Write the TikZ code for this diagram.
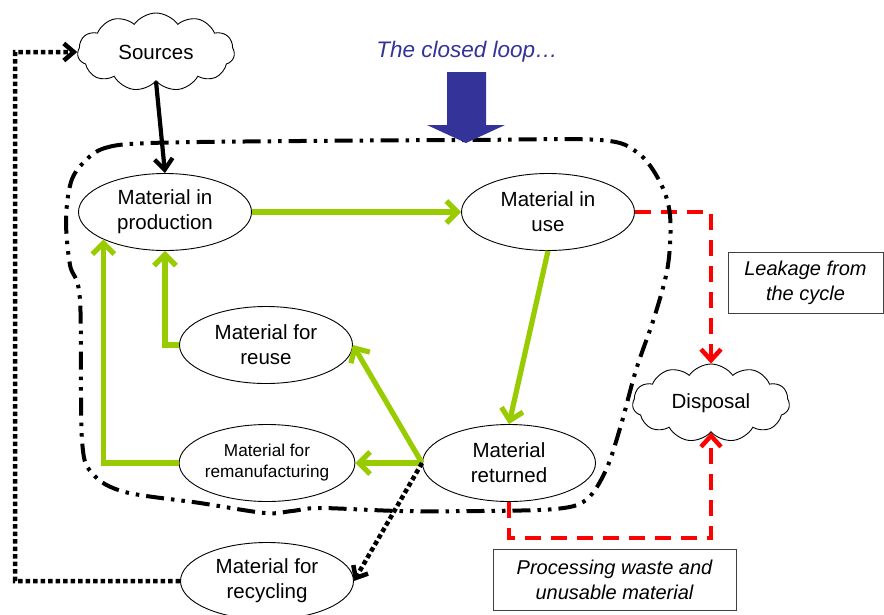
\documentclass[tikz,border=0pt]{standalone}
\usepackage{fontspec}
\setmainfont{Liberation Sans}
\usetikzlibrary{shapes.geometric,shapes.symbols,arrows.meta,calc}
\definecolor{lgreen}{HTML}{99CC00}
\definecolor{dblue}{HTML}{333399}
\begin{document}
\begin{tikzpicture}[x=1pt,y=-1pt,
  every node/.style={font=\fontsize{20.5}{25}\selectfont},
  ell/.style={ellipse, draw, fill=white, line width=0.9pt, minimum width=173pt, minimum height=77pt, inner sep=0pt, align=center},
  cld/.style={cloud, draw, fill=white, line width=0.9pt, cloud puffs=11, cloud puff arc=110, aspect=2.1, minimum width=157pt, minimum height=78pt, inner sep=0pt},
  garrow/.style={draw=lgreen, line width=5.2pt, -{Straight Barb[length=11pt,width=22pt]}},
  barrow/.style={draw=black, line width=4.2pt, -{Straight Barb[length=11pt,width=18pt]}},
  dotline/.style={draw=black, line width=4.5pt, dash pattern=on 4.5pt off 3pt},
  dotarrow/.style={dotline, -{Straight Barb[length=10pt,width=17pt]}},
  rarrow/.style={draw=red, line width=4.5pt, dash pattern=on 16pt off 10pt, -{Straight Barb[length=11pt,width=20pt]}},
  loopline/.style={draw=black, line width=4pt, dash pattern=on 18pt off 7pt on 3.5pt off 7pt on 3.5pt off 7pt},
  textbox/.style={draw=black!75, line width=0.9pt, fill=white, align=center, inner sep=0pt, font=\fontsize{20}{25}\selectfont\itshape}
]
\clip (0,0) rectangle (884,614);
\fill[white] (0,0) rectangle (884,614);

% nodes
\node[cld] (src) at (156,52) {Sources};
\node[cld] (disp) at (711,403) {Disposal};
\node[ell] (prod) at (165,212) {Material in\\production};
\node[ell] (use) at (548,212) {Material in\\use};
\node[ell] (reuse) at (266,345) {Material for\\reuse};
\node[ell, font=\fontsize{17.2}{21}\selectfont] (reman) at (267,463) {Material for\\remanufacturing};
\node[ell] (ret) at (509,463) {Material\\returned};
\node[ell] (rec) at (267,581) {Material for\\recycling};
\node[textbox, minimum width=155pt, minimum height=61pt] (leak) at (805.5,282.5) {Leakage from\\the cycle};
\node[textbox, minimum width=243pt, minimum height=61pt] (proc) at (614.5,579.5) {Processing waste and\\unusable material};
\node[text=dblue, font=\fontsize{22.5}{27}\selectfont\itshape] (title) at (467,52) {The closed loop…};

% red leakage connectors
\draw[rarrow] (use.east) -| (disp.north);
\coordinate (rdown) at (509,538);
\draw[rarrow] (ret.south) -- (rdown) -| (disp.south);

% closed loop boundary
\draw[loopline] plot[smooth cycle, tension=0.55] coordinates {
  (84,162) (105,148) (150,143) (300,141) (470,140) (600,140) (638,153)
  (660,182) (670,215) (668,265) (655,315) (636,370) (621,425) (606,470)
  (586,500) (555,509) (480,511) (400,511) (320,508) (292,511) (265,513)
  (200,503) (125,492) (93,474) (82,440) (80,300) (70,265) (66,220) (71,182)};

% green connectors
\draw[garrow] (prod.east) -- (use.west);
\draw[garrow] (use.south) -- (ret.north);
\coordinate (rw) at (422,463);
\draw[garrow] (rw) -- (reuse.east);
\draw[garrow] (rw) -- (reman.east);
\draw[garrow] (reuse.west) -| (prod.south);
\draw[garrow] (reman.west) -| (prod.204);

% black connectors
\draw[barrow] (src.south) -- (prod.north);
\draw[dotarrow] (rw) -- (rec.east);
\coordinate (lc) at (15,52);
\draw[dotarrow] (rec.west) -| (lc) -- (src.west);

% big blue arrow
\fill[dblue] (447,72) -- (486,72) -- (486,125) -- (505,125) -- (466,143) -- (427,125) -- (447,125) -- cycle;
\end{tikzpicture}
\end{document}
